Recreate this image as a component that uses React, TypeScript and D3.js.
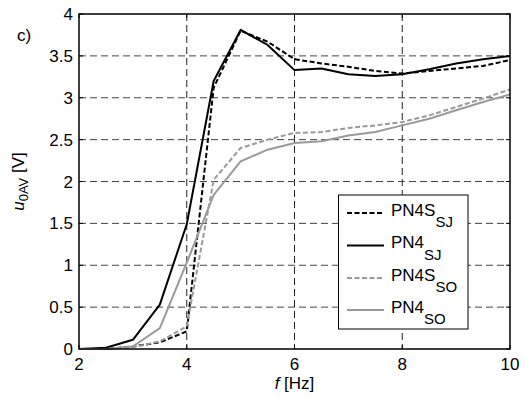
import React from "react";
import * as d3 from "d3";

const freq = [2, 2.5, 3, 3.5, 4, 4.5, 5, 5.5, 6, 6.5, 7, 7.5, 8, 8.5, 9, 9.5, 10];
const pn4sSJ = [0, 0, 0.03, 0.08, 0.21, 3.12, 3.8, 3.67, 3.46, 3.41, 3.37, 3.32, 3.29, 3.32, 3.35, 3.38, 3.45];
const pn4SJ = [0, 0.015, 0.11, 0.53, 1.49, 3.2, 3.81, 3.63, 3.33, 3.35, 3.28, 3.26, 3.28, 3.34, 3.41, 3.46, 3.5];
const pn4sSO = [0, 0, 0.02, 0.09, 0.27, 2.02, 2.4, 2.5, 2.58, 2.59, 2.64, 2.67, 2.71, 2.79, 2.89, 2.99, 3.1];
const pn4SO = [0, 0, 0.03, 0.25, 1.03, 1.84, 2.24, 2.38, 2.46, 2.48, 2.55, 2.59, 2.67, 2.75, 2.85, 2.95, 3.04];

const xTicks = [2, 4, 6, 8, 10];
const yTicks = [0, 0.5, 1, 1.5, 2, 2.5, 3, 3.5, 4];

const seriesNames = ["PN4S", "PN4", "PN4S", "PN4"];
const seriesSubs = ["SJ", "SJ", "SO", "SO"];

const W = 525;
const H = 397;
const L = 79, R = 510, T = 14, B = 349;
const FONT = "Arial, 'Liberation Sans', Helvetica, sans-serif";

export default function App() {
  const x = d3.scaleLinear().domain([2, 10]).range([L, R]);
  const y = d3.scaleLinear().domain([0, 4]).range([B, T]);
  const line = d3
    .line<number>()
    .x((_, i) => x(freq[i]))
    .y((d) => y(d));

  const series = [
    { data: pn4sSJ, color: "#000", dash: "5,2.5" },
    { data: pn4SJ, color: "#000", dash: "" },
    { data: pn4sSO, color: "#9a9a9a", dash: "5,2.5" },
    { data: pn4SO, color: "#9a9a9a", dash: "" },
  ];

  const legX = 338.5, legY = 195, legW = 129.5, legH = 134;
  const entryY = [213, 245.5, 278, 310];

  return (
    <div style={{ position: "absolute", left: 0, top: 0 }}>
      <svg width={W} height={H} style={{ display: "block", background: "#fff" }} fontFamily={FONT}>
        {/* grid */}
        {xTicks.slice(1, -1).map((t) => (
          <line key={"gx" + t} x1={x(t)} x2={x(t)} y1={T} y2={B} stroke="#222" strokeWidth={1} strokeDasharray="7,4" />
        ))}
        {yTicks.slice(1, -1).map((t) => (
          <line key={"gy" + t} x1={L} x2={R} y1={y(t)} y2={y(t)} stroke="#444" strokeWidth={1} strokeDasharray="7,4" />
        ))}
        {/* ticks */}
        {xTicks.map((t) => (
          <g key={"tx" + t}>
            <line x1={x(t)} x2={x(t)} y1={B} y2={B - 4} stroke="#000" />
            <line x1={x(t)} x2={x(t)} y1={T} y2={T + 4} stroke="#000" />
          </g>
        ))}
        {yTicks.map((t) => (
          <g key={"ty" + t}>
            <line x1={L} x2={L + 4} y1={y(t)} y2={y(t)} stroke="#000" />
            <line x1={R} x2={R - 4} y1={y(t)} y2={y(t)} stroke="#000" />
          </g>
        ))}
        {/* series */}
        {series.map((s, i) => (
          <path
            key={"s" + i}
            d={line(s.data) || ""}
            fill="none"
            stroke={s.color}
            strokeWidth={2}
            strokeDasharray={s.dash}
            strokeLinejoin="round"
          />
        ))}
        {/* frame */}
        <rect x={L} y={T} width={R - L} height={B - T} fill="none" stroke="#000" strokeWidth={1.5} />
        {/* tick labels */}
        {xTicks.map((t) => (
          <text key={"lx" + t} x={x(t)} y={370} textAnchor="middle" fontSize={17}>
            {t}
          </text>
        ))}
        {yTicks.map((t) => (
          <text key={"ly" + t} x={73} y={y(t) + 6} textAnchor="end" fontSize={17}>
            {t}
          </text>
        ))}
        {/* axis labels */}
        <text x={(L + R) / 2} y={389} textAnchor="middle" fontSize={17}>
          <tspan fontStyle="italic">f</tspan>
          <tspan> [Hz]</tspan>
        </text>
        <text transform={`translate(24,${(T + B) / 2}) rotate(-90)`} textAnchor="middle" fontSize={17}>
          <tspan fontStyle="italic">u</tspan>
          <tspan fontSize={13} dy={4}>0AV</tspan>
          <tspan dy={-4}> [V]</tspan>
        </text>
        <text x={17} y={41} fontSize={17}>c)</text>
        {/* legend */}
        <rect x={legX} y={legY} width={legW} height={legH} fill="#fff" stroke="#000" strokeWidth={1} />
        {series.map((s, i) => (
          <g key={"lg" + i}>
            <line
              x1={347}
              x2={384}
              y1={entryY[i]}
              y2={entryY[i]}
              stroke={s.color}
              strokeWidth={2}
              strokeDasharray={s.dash}
            />
            <text x={391} y={entryY[i] + 2.5} fontSize={17}>
              <tspan>{seriesNames[i]}</tspan>
              <tspan fontSize={15} dy={11.5}>{seriesSubs[i]}</tspan>
            </text>
          </g>
        ))}
      </svg>
    </div>
  );
}
